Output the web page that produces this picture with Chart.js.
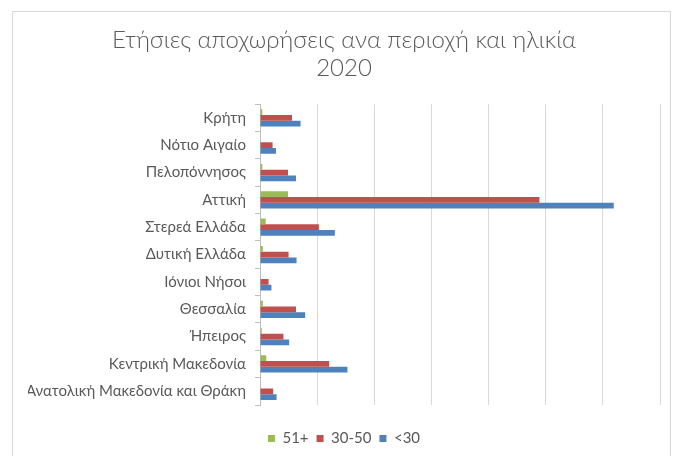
<!DOCTYPE html>
<html>
<head>
<meta charset="utf-8">
<script src="https://cdn.jsdelivr.net/npm/chart.js@4"></script>
<style>
  body { margin: 0; background: #fff; }
  #wrap { position: relative; width: 681px; height: 456px; }
  #frame {
    position: absolute; left: 12px; top: 11px; width: 657px; height: 460px;
    border: 1px solid #d9d9d9; pointer-events: none;
  }
</style>
</head>
<body>
<div id="wrap">
  <canvas id="chart" width="681" height="456"></canvas>
  <div id="frame"></div>
</div>
<script>
// ── Data ──
const regions = [
  "Κρήτη",
  "Νότιο Αιγαίο",
  "Πελοπόννησος",
  "Αττική",
  "Στερεά Ελλάδα",
  "Δυτική Ελλάδα",
  "Ιόνιοι Νήσοι",
  "Θεσσαλία",
  "Ήπειρος",
  "Κεντρική Μακεδονία",
  "Ανατολική Μακεδονία και Θράκη",
];
const seriesNames = ["51+", "30-50", "<30"];
const age51plus = [80, 20, 80, 980, 200, 100, 10, 100, 60, 220, 20];
const age30to50 = [1120, 440, 980, 9780, 2060, 1000, 300, 1260, 820, 2420, 460];
const ageUnder30 = [1420, 560, 1260, 12380, 2620, 1280, 400, 1580, 1020, 3060, 580];
const titleLines = ["Ετήσιες αποχωρήσεις ανα περιοχή και ηλικία", "2020"];

const colors = ["#9BBB59", "#C0504D", "#4F81BD"];
const font = "Lato, 'Liberation Sans', sans-serif";

const ctx = document.getElementById("chart").getContext("2d");

new Chart(ctx, {
  type: "bar",
  data: {
    labels: regions,
    datasets: [age51plus, age30to50, ageUnder30].map((d, i) => ({
      label: seriesNames[i],
      data: d,
      backgroundColor: colors[i],
      borderWidth: 0,
      categoryPercentage: 0.63,
      barPercentage: 1,
    })),
  },
  options: {
    indexAxis: "y",
    responsive: false,
    animation: false,
    layout: { padding: { left: 28, right: 21, top: 16, bottom: 0 } },
    plugins: {
      title: {
        display: true,
        text: titleLines,
        color: "#595959",
        font: { family: font, size: 24, weight: 300, lineHeight: 1.17 },
        padding: { top: 10, bottom: 22 },
      },
      legend: {
        position: "bottom",
        labels: {
          color: "#595959",
          font: { family: font, size: 15 },
          boxWidth: 7,
          boxHeight: 7,
          padding: 8,
        },
      },
      tooltip: { enabled: false },
    },
    scales: {
      x: {
        min: 0,
        max: 14000,
        afterFit: (scale) => { scale.height = 18; },
        ticks: { display: false, stepSize: 2000 },
        grid: { color: "#d9d9d9", drawTicks: false },
        border: { display: false },
      },
      y: {
        afterFit: (scale) => { scale.width = 232; },
        ticks: { color: "#595959", font: { family: font, size: 15 }, padding: 9 },
        grid: { offset: true, drawOnChartArea: false, tickLength: 5, color: "#bfbfbf" },
        border: { display: true, color: "#bfbfbf" },
      },
    },
  },
});
</script>
</body>
</html>
